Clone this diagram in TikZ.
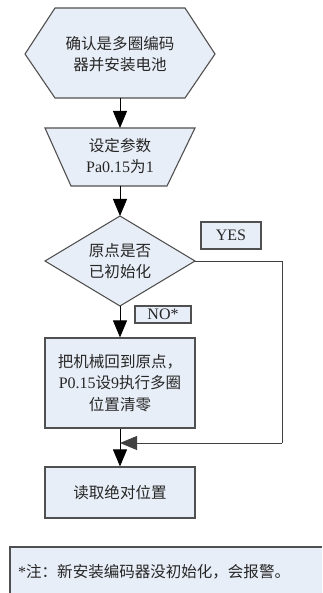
\documentclass[tikz,border=0pt]{standalone}
\usepackage{fontspec}
\setmainfont{Liberation Serif}
\newfontfamily\cjk{Noto Sans CJK SC}[Scale=0.97]
\usetikzlibrary{arrows.meta}
\definecolor{boxfill}{HTML}{E8EEF7}
\definecolor{boxline}{HTML}{505050}
\definecolor{txt}{HTML}{262626}
\tikzset{
  shapebox/.style={draw=boxline,line width=1.1pt,fill=boxfill},
  lbl/.style={text=txt,align=center,inner sep=0pt,font=\fontsize{16}{21.5}\selectfont},
  flow/.style={draw=black,line width=0.9pt,-{Triangle[length=17pt,width=14pt]}},
  plain/.style={draw=black!70,line width=0.9pt}
}
\begin{document}
\begin{tikzpicture}[x=1pt,y=-1pt]
\useasboundingbox (0,0) rectangle (322,593);
% hexagon
\draw[shapebox] (55,8) -- (185,8) -- (215,54) -- (185,98) -- (55,98) -- (25,54) -- cycle;
\node[lbl] (start) at (120,54) {\cjk 确认是多圈编码\\\cjk 器并安装电池};
\coordinate (startB) at (120,98);
% trapezoid
\draw[shapebox] (45,128) -- (195,128) -- (167,186) -- (71,186) -- cycle;
\node[lbl] (param) at (120,156) {\cjk 设定参数\\Pa0.15{\cjk 为}1};
\coordinate (paramT) at (120,128);
\coordinate (paramB) at (120,186);
% diamond
\draw[shapebox] (120,216) -- (195,261) -- (120,306) -- (45,261) -- cycle;
\node[lbl] (dec) at (120,261) {\cjk 原点是否\\\cjk 已初始化};
\coordinate (decT) at (120,216);
\coordinate (decR) at (195,261);
\coordinate (decB) at (120,306);
% yes / no labels
\node[shapebox,lbl,minimum width=60pt,minimum height=27pt] (yes) at (231,235.5) {YES};
\node[shapebox,lbl,minimum width=56pt,minimum height=17pt] (no) at (163,314.5) {NO*};
% box 3
\node[shapebox,lbl,minimum width=150pt,minimum height=90pt] (reset) at (120,383) {{\cjk 把机械回到原点，}\\P0.15{\cjk 设}9{\cjk 执行多圈}\\\cjk 位置清零};
% box 4
\node[shapebox,lbl,minimum width=150pt,minimum height=51pt] (read) at (120,492.5) {\cjk 读取绝对位置};
% note (cut off at the right and bottom edges)
\fill[boxfill] (10,547) rectangle (322,593);
\draw[draw=boxline,line width=1.1pt] (10,593) -- (10,547) -- (322,547);
\node[lbl,anchor=west] (note) at (18,572) {*{\cjk 注：新安装编码器没初始化，会报警。}};
% connectors
\draw[flow] (startB) -- (paramT);
\draw[flow] (paramB) -- (decT);
\draw[flow] (decB) -- (reset.north);
\coordinate (merge) at (120,443);
\coordinate (yesC) at (282,261);
\coordinate (yesD) at (282,443);
\draw[flow] (reset.south) -- (read.north);
\draw[plain,draw=black!75] (decR) -- (yesC) -- (yesD);
\draw[flow,draw=black!75] (yesD) -- (merge);
\end{tikzpicture}
\end{document}
